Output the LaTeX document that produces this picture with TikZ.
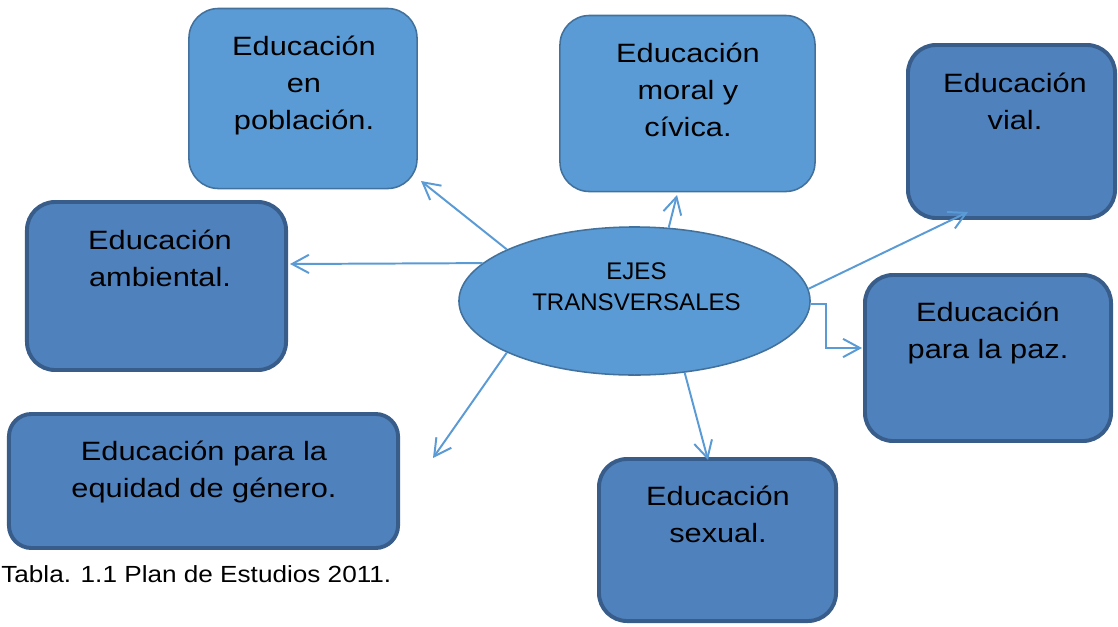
\documentclass[tikz,border=0pt]{standalone}
\usepackage{fontspec}
\setmainfont{Liberation Sans}
\newfontfamily\widefont[FakeStretch=1.16]{Liberation Sans}
\newfontfamily\capfont[FakeStretch=1.12]{Liberation Sans}
\usetikzlibrary{arrows.meta,shapes.geometric}
\definecolor{lightfill}{HTML}{5B9BD5}
\definecolor{lightline}{HTML}{41719C}
\definecolor{darkfill}{HTML}{4F81BD}
\definecolor{darkline}{HTML}{385D8A}
\definecolor{arrowblue}{HTML}{5B9BD5}
\begin{document}
\begin{tikzpicture}[x=0.025cm, y=-0.025cm,
    lightbox/.style={draw=lightline, fill=lightfill, line width=1.1pt, rounded corners=21pt},
    darkbox/.style={draw=darkline, fill=darkfill, line width=2.8pt, rounded corners=20pt},
    boxtext/.style={anchor=north, align=center, inner sep=0pt, font=\widefont\fontsize{18.85}{26.1}\selectfont},
    link/.style={draw=arrowblue, line width=1.4pt, -{Straight Barb[length=12pt,width=13pt]}}]
    \useasboundingbox (0,0) rectangle (1118,626);
    \node[lightbox, minimum width=5.7cm, minimum height=4.5cm] (pob) at (303,98.5) {};
    \node[lightbox, minimum width=6.375cm, minimum height=4.4cm] (moral) at (687.5,103.5) {};
    \node[darkbox, minimum width=5.175cm, minimum height=4.325cm] (vial) at (1011.5,131.5) {};
    \node[darkbox, minimum width=6.475cm, minimum height=4.2cm] (amb) at (156.5,286) {};
    \node[darkbox, minimum width=6.15cm, minimum height=4.15cm] (paz) at (988,358) {};
    \node[darkbox, minimum width=9.725cm, minimum height=3.35cm, rounded corners=16pt] (gen) at (203.5,481) {};
    \node[darkbox, minimum width=5.925cm, minimum height=4.05cm] (sex) at (717.5,540) {};
    \node[ellipse, draw=lightline, fill=lightfill, line width=1.1pt, minimum width=8.775cm, minimum height=3.7cm, inner sep=0pt] (ejes) at (634.5,301) {};
    \node[boxtext] (pobtext) at (304,36) {Educación\\en\\población.};
    \node[boxtext] (moraltext) at (688,43) {Educación\\moral y\\cívica.};
    \node[boxtext] (vialtext) at (1015,73) {Educación\\vial.};
    \node[boxtext] (ambtext) at (160,230) {Educación\\ambiental.};
    \node[boxtext] (paztext) at (988,302) {Educación\\para la paz.};
    \node[boxtext] (gentext) at (204,441) {Educación para la\\equidad de género.};
    \node[boxtext] (sextext) at (718,486) {Educación\\sexual.};
    \node[anchor=north, align=center, inner sep=0pt, font=\fontsize{17.1}{22}\selectfont] (ejestext) at (636.5,262) {EJES\\TRANSVERSALES};
    \node[anchor=base west, inner sep=0pt, font=\capfont\fontsize{16.6}{20}\selectfont] (caption) at (1,582) {Tabla. 1.1 Plan de Estudios 2011.};
    \coordinate (pobtip) at (421,181);
    \coordinate (moraltip) at (677,195);
    \coordinate (vialtip) at (968,212);
    \coordinate (ambtip) at (290,264);
    \coordinate (paztip) at (862,348);
    \coordinate (gentip) at (433,458);
    \coordinate (sextip) at (708,460);
    \draw[link] (ejes.158) -- (pobtip);
    \draw[link] (ejes.65) -- (moraltip);
    \draw[link] (ejes.4) -- (vialtip);
    \draw[link] (ejes.166.5) -- (ambtip);
    \draw[link] (ejes.-1) -- ++(15,0) |- (paztip);
    \draw[link] (ejes.202) -- (gentip);
    \draw[link] (ejes.-55) -- (sextip);
\end{tikzpicture}
\end{document}
